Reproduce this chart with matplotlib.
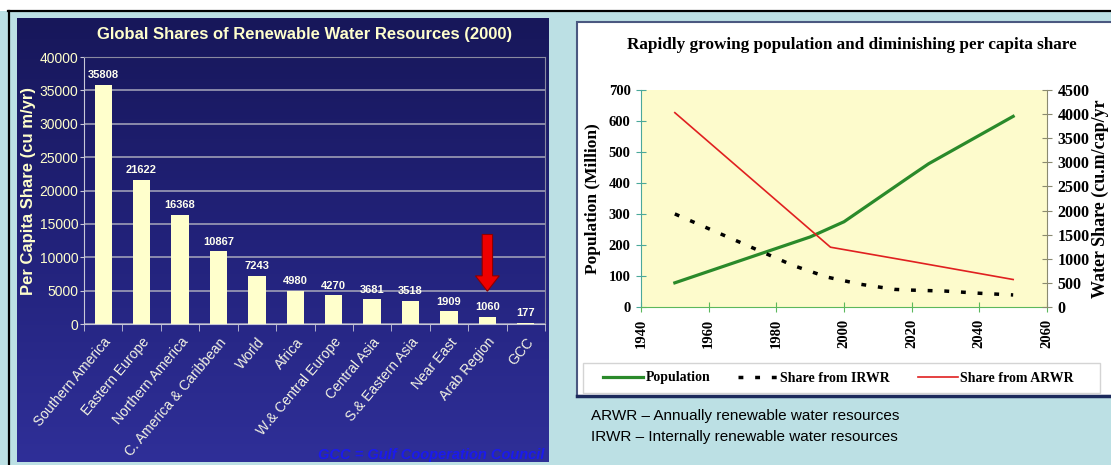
import numpy as np
import matplotlib
matplotlib.use("Agg")
from matplotlib import pyplot as plt
from matplotlib.colors import LinearSegmentedColormap
from matplotlib.lines import Line2D
from matplotlib.patches import Rectangle

# --- regional per capita shares (2000), cu m/yr ---
regions = [
    "Southern America", "Eastern Europe", "Northern America",
    "C. America & Caribbean", "World", "Africa", "W.& Central Europe",
    "Central Asia", "S.& Eastern Asia", "Near East", "Arab Region", "GCC",
]
shares = [35808, 21622, 16368, 10867, 7243, 4980, 4270, 3681, 3518, 1909, 1060, 177]

# --- Arab region population and water share ---
pop_years = [1950, 1990, 2000, 2010, 2020, 2025, 2050]
population = [78, 226, 275, 350, 425, 462, 615]

irwr_years = [1950, 1985, 1995, 2005, 2015, 2020, 2030, 2040, 2050]
irwr_share = [1930, 860, 620, 470, 365, 350, 330, 285, 250]

arwr_years = [1950, 1996, 2020, 2050]
arwr_share = [4030, 1240, 945, 570]

W, H = 1111, 465
BG = "#bce0e4"
CREAM = "#ffffcc"
SANS = ["Liberation Sans", "DejaVu Sans"]
SERIF = ["Liberation Serif", "DejaVu Serif"]


def px(x0, y0, x1, y1):
    # pixel box (top-left origin) -> figure fraction rect
    return [x0 / W, 1 - y1 / H, (x1 - x0) / W, (y1 - y0) / H]


fig = plt.figure(figsize=(W / 100, H / 100), dpi=100)
fig.patch.set_facecolor(BG)

# background canvas in pixel units
bg = fig.add_axes([0, 0, 1, 1])
bg.set_xlim(0, W)
bg.set_ylim(H, 0)
bg.axis("off")
bg.add_patch(Rectangle((0, 0), W, 11, facecolor="white", edgecolor="none"))
bg.plot([8, W], [11.5, 11.5], color="black", lw=1.6)
bg.plot([8.5, 8.5], [11.5, H], color="black", lw=1.6)

# navy gradient panel
cmap = LinearSegmentedColormap.from_list("navy", ["#17175a", "#22227a", "#2f2f98"])
grad = np.linspace(0, 1, 256).reshape(-1, 1)
bg.imshow(grad, cmap=cmap, aspect="auto", extent=[17, 549, 462, 19], zorder=1)

# white panel on the right
bg.add_patch(Rectangle((577, 22), 560, 374, facecolor="white",
                       edgecolor="#4a5880", lw=1.5, zorder=1))
bg.plot([577, W], [396, 396], color="#1c2a5c", lw=2.5, zorder=2)
# legend box
bg.add_patch(Rectangle((583, 363), 517, 30, facecolor="white",
                       edgecolor="#d4d4d4", lw=1.0, zorder=2))

bg.text(591, 416, "ARWR \u2013 Annually renewable water resources",
        family=SANS, fontsize=11, color="black", va="center")
bg.text(591, 437, "IRWR \u2013 Internally renewable water resources",
        family=SANS, fontsize=11, color="black", va="center")
bg.text(545, 455, "GCC = Gulf Cooperation Council", family=SANS, fontsize=10.5,
        color="#1a1aee", style="italic", weight="bold", ha="right", va="center",
        zorder=3)

# --- bar chart ---
ax = fig.add_axes(px(84, 57, 545, 324))
ax.set_facecolor("none")
x = np.arange(len(regions))
ax.bar(x, shares, width=0.45, color=CREAM, edgecolor="none", zorder=3)
for xi, v in zip(x, shares):
    ax.text(xi, v + 700, str(v), ha="center", va="bottom", fontsize=8,
            color="#fffff0", weight="bold", family=SANS)

ax.set_xlim(-0.5, len(regions) - 0.5)
ax.set_ylim(0, 40000)
ax.set_yticks(range(0, 40001, 5000))
ax.yaxis.grid(True, color="#a8a8bc", lw=1.1)
ax.set_axisbelow(True)
ax.set_xticks(x)
ax.set_xticklabels(regions, rotation=50, ha="right", rotation_mode="anchor",
                   fontsize=10, color="#f4f4e4", family=SANS)
ax.set_xticks(np.arange(-0.5, len(regions), 1.0), minor=True)
ax.tick_params(axis="x", which="major", length=0, pad=8)
ax.tick_params(axis="x", which="minor", length=5, color="#c8c8d8", direction="out")
ax.tick_params(axis="y", length=3, color="#c8c8d8", labelsize=10,
               labelcolor=CREAM, pad=1)
for lab in ax.get_yticklabels():
    lab.set_family(SANS)
for side in ["left", "bottom"]:
    ax.spines[side].set_color("#c8c8d8")
for side in ["top", "right"]:
    ax.spines[side].set_color("#8a8aa0")
ax.set_ylabel("Per Capita Share (cu m/yr)", fontsize=12, color=CREAM,
              weight="bold", family=SANS)
ax.yaxis.set_label_coords((36 - 84) / 461, 0.5)
fig.text(305 / W, 1 - 35 / H, "Global Shares of Renewable Water Resources (2000)",
         ha="center", va="center", fontsize=12, weight="bold", color=CREAM,
         family=SANS)

# arrow marking the Arab Region bar
arab = regions.index("Arab Region")
tip = shares[arab] + 3850
ax.arrow(arab, tip + 8500, 0, -8500, width=0.27, head_width=0.62,
         head_length=2300, length_includes_head=True, fc="#ee0000",
         ec="#8b0000", lw=0.8, zorder=5)

# --- population / share chart ---
ax2 = fig.add_axes(px(641, 90, 1047, 307))
ax2.set_facecolor("#fdfbcc")
ax2.plot(pop_years, population, color="#2a8a2a", lw=2.3, zorder=3)
ax2.set_xlim(1940, 2060)
ax2.set_ylim(0, 700)
ax2.set_xticks(range(1940, 2061, 20))
ax2.set_yticks(range(0, 701, 100))

ax3 = ax2.twinx()
ax3.plot(irwr_years, irwr_share, color="black", lw=2.5, dashes=(1.4, 3.4), zorder=3)
ax3.plot(arwr_years, arwr_share, color="#e02020", lw=1.2, zorder=3)
ax3.set_ylim(0, 4500)
ax3.set_yticks(range(0, 4501, 500))

for a in (ax2, ax3):
    a.spines["top"].set_visible(False)
ax2.spines["left"].set_color("#4aa89a")
ax2.spines["bottom"].set_color("#5cb85c")
ax2.spines["right"].set_visible(False)
ax3.spines["left"].set_visible(False)
ax3.spines["bottom"].set_visible(False)
ax3.spines["right"].set_color("#8a8a70")
ax2.tick_params(axis="y", direction="inout", length=7, color="#4aa89a",
                labelsize=10.5, pad=4)
ax2.tick_params(axis="x", direction="inout", length=7, color="#5cb85c",
                labelsize=10.5, labelrotation=90, pad=5)
ax3.tick_params(axis="y", direction="inout", length=7, color="#8a8a70",
                labelsize=11.5, pad=4)
for a in (ax2, ax3):
    for lab in a.get_xticklabels() + a.get_yticklabels():
        lab.set_family(SERIF)
        lab.set_weight("bold")
ax2.set_ylabel("Population (Million)", fontsize=12.5, weight="bold",
               family=SERIF)
ax2.yaxis.set_label_coords((601 - 641) / 406, 0.5)
ax3.set_ylabel("Water Share (cu.m/cap/yr", fontsize=13, weight="bold",
               family=SERIF)
ax3.yaxis.set_label_coords((1092 - 641) / 406, 0.5)

fig.text(852 / W, 1 - 45 / H,
         "Rapidly growing population and diminishing per capita share",
         ha="center", va="center", fontsize=12.3, weight="bold", family=SERIF)

handles = [
    Line2D([], [], color="#2a8a2a", lw=2.3),
    Line2D([], [], color="black", lw=2.5, dashes=(1.4, 3.4)),
    Line2D([], [], color="#e02020", lw=1.2),
]
leg = fig.legend(handles, ["Population", "Share from IRWR", "Share from ARWR"],
                 loc="center left", bbox_to_anchor=(596 / W, 1 - 378 / H), ncol=3,
                 frameon=False, handlelength=2.9, handletextpad=0.15,
                 columnspacing=2.0, borderpad=0.0,
                 prop={"family": SERIF, "weight": "bold", "size": 10})

fig.savefig("out.png", dpi=100, facecolor=fig.get_facecolor())
